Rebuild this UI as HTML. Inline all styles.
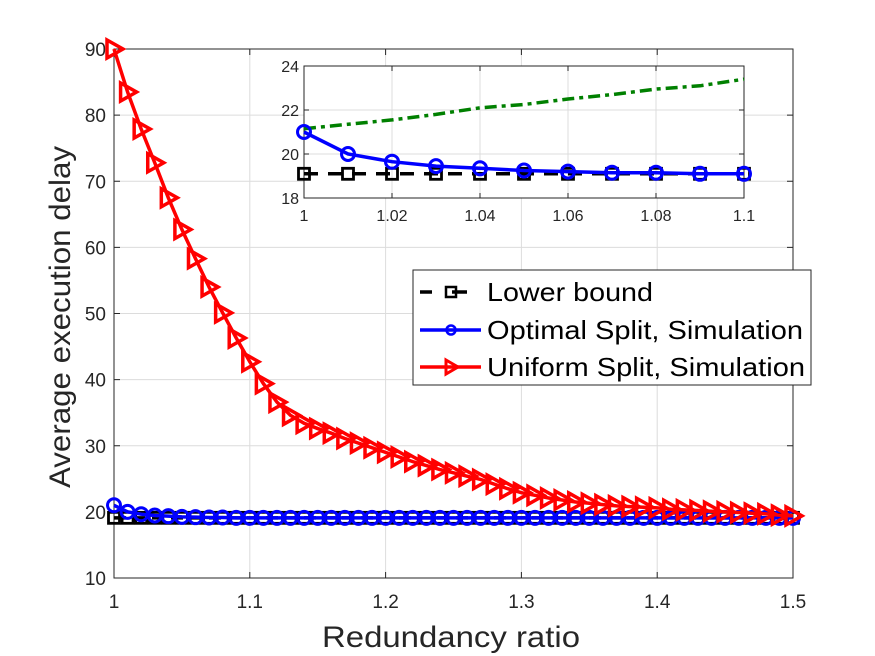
<!DOCTYPE html>
<html><head><meta charset="utf-8"><style>
body{margin:0;background:#fff}
svg{display:block;font-family:"Liberation Sans",sans-serif}
</style></head><body>
<svg id="c" width="875" height="656" xmlns="http://www.w3.org/2000/svg"></svg>
<script>
const xs=[];for(let i=0;i<=50;i++)xs.push(1+i*0.01);
const uniform=[90,83.5,77.9,72.8,67.5,62.7,58.3,54.0,50.1,46.3,42.7,39.4,36.6,34.6,33.4,32.6,31.9,31.1,30.4,29.7,29.0,28.3,27.6,27.0,26.4,25.9,25.4,24.9,24.2,23.5,22.9,22.5,22.1,21.8,21.5,21.3,21.1,20.9,20.8,20.7,20.6,20.4,20.3,20.2,20.1,20.0,19.9,19.8,19.7,19.5,19.4];
const optimal=[21.0,20.0,19.65,19.45,19.35,19.25,19.2,19.15,19.15,19.1,19.1,19.1,19.1,19.1,19.1,19.1,19.1,19.1,19.1,19.1,19.1,19.1,19.1,19.1,19.1,19.1,19.1,19.1,19.1,19.1,19.1,19.1,19.1,19.1,19.1,19.1,19.1,19.1,19.1,19.1,19.1,19.1,19.1,19.1,19.1,19.1,19.1,19.1,19.1,19.1,19.1];
const lowerBound=19.1;
const xTicks=[1,1.1,1.2,1.3,1.4,1.5];
const xTickLabels=["1","1.1","1.2","1.3","1.4","1.5"];
const yTicks=[10,20,30,40,50,60,70,80,90];
const insetXs=[1,1.01,1.02,1.03,1.04,1.05,1.06,1.07,1.08,1.09,1.1];
const insetGreen=[21.15,21.35,21.55,21.8,22.1,22.25,22.5,22.7,22.95,23.1,23.4];
const insetBlue=[21.0,20.0,19.65,19.45,19.35,19.25,19.2,19.15,19.15,19.1,19.1];
const insetXTicks=[1,1.02,1.04,1.06,1.08,1.1];
const insetXTickLabels=["1","1.02","1.04","1.06","1.08","1.1"];
const insetYTicks=[18,20,22,24];

const svg=document.getElementById('c');const NS='http://www.w3.org/2000/svg';
function el(t,a,p){const e=document.createElementNS(NS,t);for(const k in a)e.setAttribute(k,a[k]);(p||svg).appendChild(e);return e;}
const L=114,R=793,T=49,B=578;
const X=v=>L+(v-1)/0.5*(R-L), Y=v=>B-(v-10)/80*(B-T);
const IL=304,IR=744,IT=66,IB=198;
const IX=v=>IL+(v-1)/0.1*(IR-IL), IY=v=>IB-(v-18)/6*(IB-IT);

const g=el('g',{});
xTicks.forEach(t=>el('line',{x1:X(t),x2:X(t),y1:T,y2:B,stroke:'#dcdcdc','stroke-width':1},g));
yTicks.forEach(t=>el('line',{x1:L,x2:R,y1:Y(t),y2:Y(t),stroke:'#dcdcdc','stroke-width':1},g));
const ax=el('rect',{x:L,y:T,width:R-L,height:B-T,fill:'none',stroke:'#262626','stroke-width':1});

xTicks.forEach((t,i)=>{el('line',{x1:X(t),x2:X(t),y1:B,y2:B-6,stroke:'#262626'});el('line',{x1:X(t),x2:X(t),y1:T,y2:T+6,stroke:'#262626'});
 const tx=el('text',{x:X(t),y:B+30,'text-anchor':'middle','font-size':19,fill:'#262626'});tx.textContent=xTickLabels[i];
 });
yTicks.forEach(t=>{el('line',{x1:L,x2:L+6,y1:Y(t),y2:Y(t),stroke:'#262626'});el('line',{x1:R,x2:R-6,y1:Y(t),y2:Y(t),stroke:'#262626'});
 const tx=el('text',{x:L-8,y:Y(t)+7,'text-anchor':'end','font-size':19,fill:'#262626'});tx.textContent=t;
 });
const xl=el('text',{x:322,y:647,'font-size':30,fill:'#262626',textLength:258,lengthAdjust:'spacingAndGlyphs'});xl.textContent='Redundancy ratio';

const yl=el('text',{x:0,y:0,transform:`translate(70,317) rotate(-90)`,'text-anchor':'middle','font-size':30,fill:'#262626',textLength:342,lengthAdjust:'spacingAndGlyphs'});yl.textContent='Average execution delay';


function sq(x,y,p){el('rect',{x:x-5.5,y:y-5.5,width:11,height:11,fill:'none',stroke:'#000','stroke-width':2.8},p);}
function circ(x,y,p){el('circle',{cx:x,cy:y,r:6.5,fill:'none',stroke:'#00f','stroke-width':3},p);}
function tri(x,y,p){el('path',{d:`M${x-7},${y-9}L${x+9},${y}L${x-7},${y+9}Z`,fill:'none',stroke:'#f00','stroke-width':3.5,'stroke-linejoin':'miter'},p);}

const lb=el('g',{});
el('line',{x1:X(xs[0]),x2:X(xs[xs.length-1]),y1:Y(lowerBound),y2:Y(lowerBound),stroke:'#000','stroke-width':3.5,'stroke-dasharray':'12 7'},lb);
xs.forEach(x=>sq(X(x),Y(lowerBound),lb));
const op=el('g',{});
el('polyline',{points:xs.map((x,i)=>X(x)+','+Y(optimal[i])).join(' '),fill:'none',stroke:'#00f','stroke-width':3.5},op);
xs.forEach((x,i)=>circ(X(x),Y(optimal[i]),op));
const un=el('g',{});
el('polyline',{points:xs.map((x,i)=>X(x)+','+Y(uniform[i])).join(' '),fill:'none',stroke:'#f00','stroke-width':3.5},un);
xs.forEach((x,i)=>tri(X(x),Y(uniform[i]),un));

const ins=el('g',{});
el('rect',{x:IL,y:IT,width:IR-IL,height:IB-IT,fill:'#fff'},ins);
insetXTicks.forEach(t=>el('line',{x1:IX(t),x2:IX(t),y1:IT,y2:IB,stroke:'#dcdcdc'},ins));
insetYTicks.forEach(t=>el('line',{x1:IL,x2:IR,y1:IY(t),y2:IY(t),stroke:'#dcdcdc'},ins));
el('rect',{x:IL,y:IT,width:IR-IL,height:IB-IT,fill:'none',stroke:'#262626'},ins);
insetXTicks.forEach((t,i)=>{el('line',{x1:IX(t),x2:IX(t),y1:IB,y2:IB-5,stroke:'#262626'},ins);el('line',{x1:IX(t),x2:IX(t),y1:IT,y2:IT+5,stroke:'#262626'},ins);
 const tx=el('text',{x:IX(t),y:IB+23,'text-anchor':'middle','font-size':16,fill:'#262626'},ins);tx.textContent=insetXTickLabels[i];});
insetYTicks.forEach(t=>{el('line',{x1:IL,x2:IL+5,y1:IY(t),y2:IY(t),stroke:'#262626'},ins);el('line',{x1:IR,x2:IR-5,y1:IY(t),y2:IY(t),stroke:'#262626'},ins);
 const tx=el('text',{x:IL-5,y:IY(t)+6,'text-anchor':'end','font-size':16,fill:'#262626'},ins);tx.textContent=t;});
el('polyline',{points:insetXs.map((x,i)=>IX(x)+','+IY(insetGreen[i])).join(' '),fill:'none',stroke:'#008000','stroke-width':3.5,'stroke-dasharray':'12 5 4 5'},ins);
el('line',{x1:IL,x2:IR,y1:IY(lowerBound),y2:IY(lowerBound),stroke:'#000','stroke-width':3.5,'stroke-dasharray':'14 10'},ins);
insetXs.forEach(x=>sq(IX(x),IY(lowerBound),ins));
el('polyline',{points:insetXs.map((x,i)=>IX(x)+','+IY(insetBlue[i])).join(' '),fill:'none',stroke:'#00f','stroke-width':3.5},ins);
insetXs.forEach((x,i)=>circ(IX(x),IY(insetBlue[i]),ins));

const lg=el('g',{});
el('rect',{x:413,y:270,width:398,height:115,fill:'#fff',stroke:'#262626'},lg);
const rows=[['Lower bound',292,166],['Optimal Split, Simulation',330,316],['Uniform Split, Simulation',367,318]];
el('line',{x1:420,x2:432,y1:292,y2:292,stroke:'#000','stroke-width':3.5},lg);
el('line',{x1:452,x2:467,y1:292,y2:292,stroke:'#000','stroke-width':3.5},lg);
el('rect',{x:446,y:287,width:10,height:10,fill:'none',stroke:'#000','stroke-width':2.5},lg);
el('line',{x1:420,x2:481,y1:330,y2:330,stroke:'#00f','stroke-width':3.5},lg);
el('circle',{cx:451,cy:330,r:4.5,fill:'none',stroke:'#00f','stroke-width':2.5},lg);
el('line',{x1:420,x2:481,y1:367,y2:367,stroke:'#f00','stroke-width':3.5},lg);
el('path',{d:'M446,360L458,367L446,374Z',fill:'none',stroke:'#f00','stroke-width':3},lg);
rows.forEach(r=>{const t=el('text',{x:487,y:r[1]+9,'font-size':26,fill:'#000',textLength:r[2],lengthAdjust:'spacingAndGlyphs'},lg);t.textContent=r[0];
 });
</script>
</body></html>
